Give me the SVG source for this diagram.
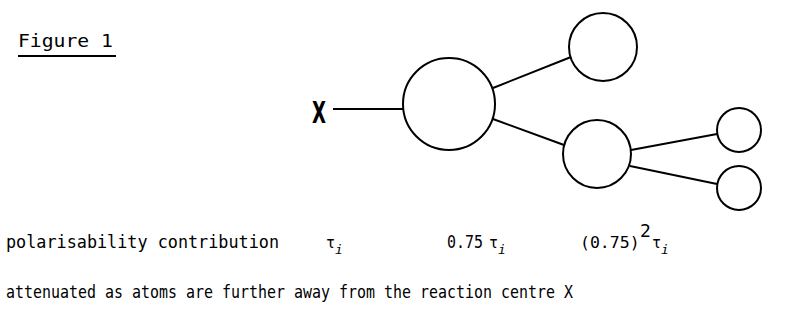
<svg xmlns="http://www.w3.org/2000/svg" width="812" height="328" viewBox="0 0 812 328">
<style>
.t{font-family:"DejaVu Sans Mono","Liberation Mono",monospace;font-size:18px;fill:#000}
.atom{fill:none;stroke:#000;stroke-width:2}
.bond{stroke:#000;stroke-width:2;fill:none}
.sub{font-style:italic;font-size:13px}
.tau{font-size:15px}
</style>
<rect width="812" height="328" fill="#fff"/>
<g id="title">
<text class="t" x="18" y="47" font-size="21" textLength="95" lengthAdjust="spacingAndGlyphs">Figure 1</text>
<line x1="18" y1="56" x2="116" y2="56" stroke="#000" stroke-width="2"/>
</g>
<g id="connectors">
<line class="bond" x1="333" y1="109" x2="404" y2="109"/>
<line class="bond" x1="493" y1="88" x2="571" y2="57"/>
<line class="bond" x1="493" y1="119" x2="564" y2="145"/>
<line class="bond" x1="631" y1="150" x2="717" y2="134"/>
<line class="bond" x1="630" y1="166" x2="717" y2="184"/>
</g>
<g id="X"><text x="312" y="123" font-family="DejaVu Sans" font-weight="bold" font-size="31" textLength="14" lengthAdjust="spacingAndGlyphs">X</text></g>
<g id="atom1"><circle class="atom" cx="449" cy="104" r="46"/></g>
<g id="atom2"><circle class="atom" cx="603" cy="47" r="34"/></g>
<g id="atom3"><circle class="atom" cx="597" cy="154" r="34"/></g>
<g id="atom4"><circle class="atom" cx="739" cy="130" r="22"/></g>
<g id="atom5"><circle class="atom" cx="739" cy="188" r="22"/></g>
<g id="labels">
<text class="t" x="6" y="248" textLength="273" lengthAdjust="spacingAndGlyphs">polarisability contribution</text>
<text class="t" x="326" y="248"><tspan class="tau">τ</tspan><tspan class="sub" dy="6">i</tspan></text>
<text class="t" x="447" y="248" textLength="36" lengthAdjust="spacingAndGlyphs">0.75</text>
<text class="t" x="489" y="248"><tspan class="tau">τ</tspan><tspan class="sub" dy="6">i</tspan></text>
<text class="t" x="580" y="248"><tspan font-size="16.5">(0.75)</tspan><tspan x="640" dy="-11">2</tspan><tspan class="tau" x="652" dy="11">τ</tspan><tspan class="sub" dy="6">i</tspan></text>
<text class="t" x="6" y="298" textLength="567" lengthAdjust="spacingAndGlyphs">attenuated as atoms are further away from the reaction centre  X</text>
</g>
</svg>
